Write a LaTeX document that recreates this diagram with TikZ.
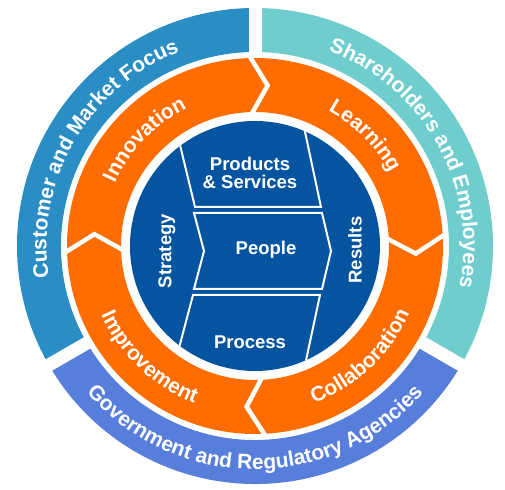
\documentclass[tikz,border=0pt]{standalone}
\usepackage{fontspec}
\setmainfont{Liberation Sans}
\usetikzlibrary{decorations.text}
\definecolor{outerblue}{HTML}{2A8DC4}
\definecolor{outerteal}{HTML}{6FCDCE}
\definecolor{outerlilac}{HTML}{587EDC}
\definecolor{ringorange}{HTML}{FF6D00}
\definecolor{corenavy}{HTML}{0454A0}
\newcommand{\ringfont}{\bfseries\fontsize{21}{21}\selectfont}
\tikzset{ringtext/.style={decorate,decoration={text along path,text align=center,text color=white,text={|\ringfont|#1}}}}

\begin{document}
\begin{tikzpicture}[x=1pt,y=1pt]
                  \tikzstyle{every node}=[font=\bfseries\fontsize{18.5}{18}\selectfont,text=white]
                  \useasboundingbox (-255,-243) rectangle (250,246);
                  \fill[outerblue] (90:238) arc[start angle=90,end angle=210,radius=238] -- (210:194) arc[start angle=210,end angle=90,radius=194] -- cycle;
                  \fill[outerteal] (-30:238) arc[start angle=-30,end angle=90,radius=238] -- (90:194) arc[start angle=90,end angle=-30,radius=194] -- cycle;
                  \fill[outerlilac] (210:238) arc[start angle=210,end angle=330,radius=238] -- (330:194) arc[start angle=330,end angle=210,radius=194] -- cycle;
                  \foreach \a in {90,210,330} \draw[white,line width=13] (\a:185) -- (\a:245);
                  \fill[ringorange,even odd rule] (0,0) circle (188) (0,0) circle (134);
                  \foreach \b in {92,3.8,-86.5,182.3} \draw[white,line width=4.5] (\b:192) -- (\b-6.5:161) -- (\b:130);
                  \fill[corenavy] (0,0) circle (125);
                  \begin{scope}
                    \clip (0,0) circle (125);
                    \draw[white,line width=2] (-84.4,140) -- (-60,39) -- (66,39) -- (44.5,140);
                    \draw[white,line width=2] (-61,33) -- (-51,-5) -- (-61,-43) -- (67,-43) -- (76,-5) -- (67,33) -- cycle;
                    \draw[white,line width=2] (-88.6,-150) -- (-62,-49) -- (65,-49) -- (43.4,-150);
                  \end{scope}
                  \node[align=center] (prod) at (-5,73) {Products\\\& Services};
                  \node (people) at (11,-4) {People};
                  \node (process) at (-5,-96) {Process};
                  \node[rotate=90] (strategy) at (-88,-5) {Strategy};
                  \node[rotate=90] (results) at (100,-4) {Results};
                  \path[ringtext=Customer and Market Focus] (200:208.5) arc[start angle=200,end angle=100,radius=208.5];
                  \path[ringtext=Shareholders and Employees] (79:208.5) arc[start angle=79,end angle=-21,radius=208.5];
                  \path[ringtext=Government and Regulatory Agencies] (215:223.5) arc[start angle=215,end angle=325,radius=223.5];
                  \path[ringtext=Innovation] (186:153.5) arc[start angle=186,end angle=86,radius=153.5];
                  \path[ringtext=Learning] (95:153.5) arc[start angle=95,end angle=-5,radius=153.5];
                  \path[ringtext=Collaboration] (-96.5:168.5) arc[start angle=-96.5,end angle=3.5,radius=168.5];
                  \path[ringtext=Improvement] (176.5:168.5) arc[start angle=176.5,end angle=276.5,radius=168.5];
              \end{tikzpicture}
\end{document}
